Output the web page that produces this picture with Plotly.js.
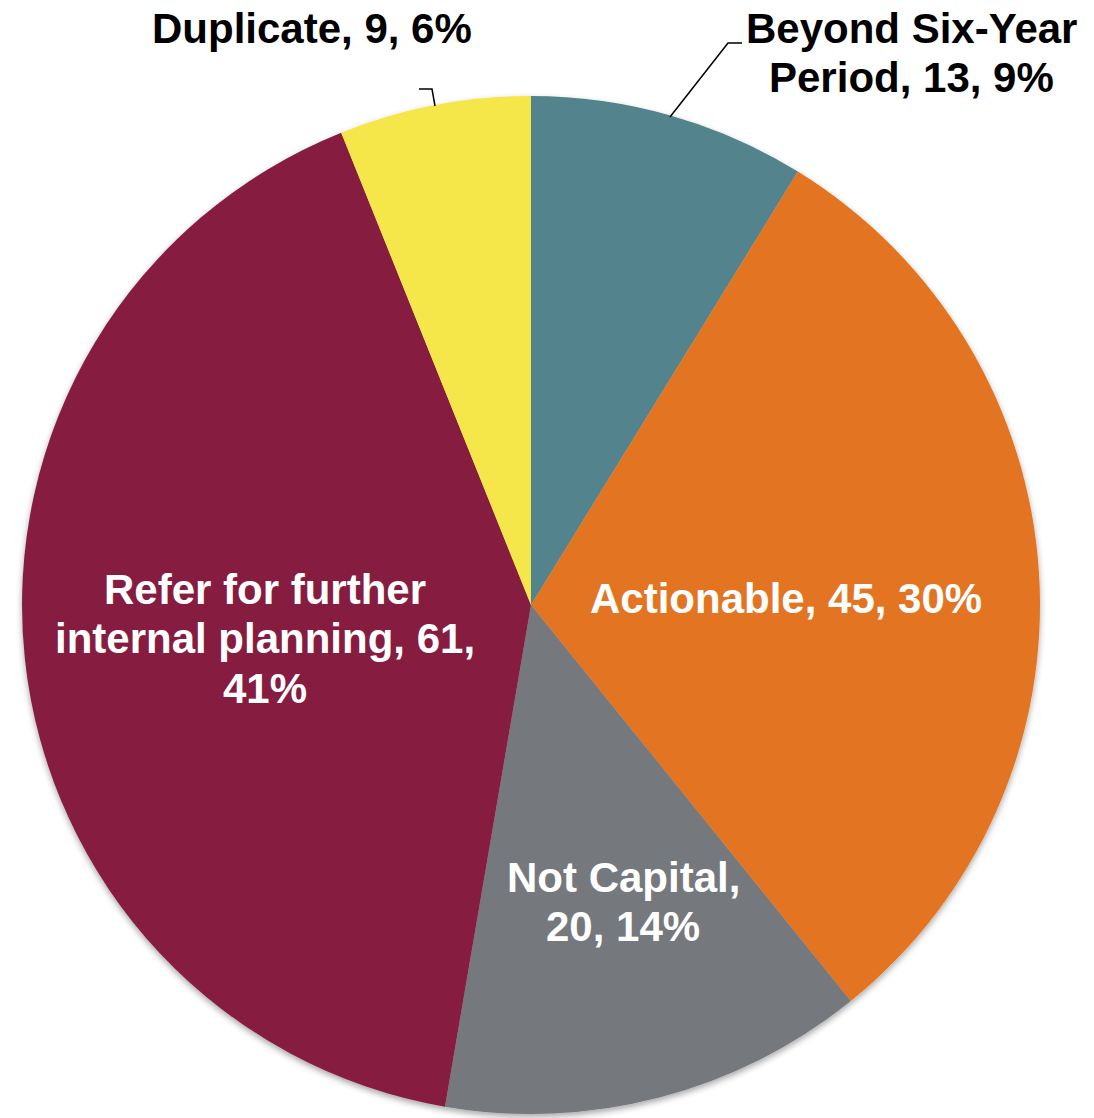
<!DOCTYPE html>
<html>
<head>
<meta charset="utf-8">
<script src="https://cdn.plot.ly/plotly-3.0.1.min.js"></script>
<style>
  html, body { margin: 0; padding: 0; background: #fff; }
  #chart { width: 1094px; height: 1118px; }
</style>
</head>
<body>
<div id="chart"></div>
<script>
// Request dispositions
const categories = ['Beyond Six-Year Period', 'Actionable', 'Not Capital', 'Refer for further internal planning', 'Duplicate'];
const counts = [13, 45, 20, 61, 9];
const sliceColors = ['#52838C', '#E37521', '#75787B', '#861F41', '#F5E64A'];

const W = 1094, H = 1118;
const cx = 531, cy = 605, R = 509;

// label layout per slice: centre x, first baseline y, wrap width (chars), colour
const labelLayout = [
  { x: 911, y: 42,  wrap: 15, color: '#000000' },
  { x: 786, y: 612, wrap: 30, color: '#ffffff' },
  { x: 623, y: 891, wrap: 12, color: '#ffffff' },
  { x: 265, y: 603, wrap: 22, color: '#ffffff' },
  { x: 312, y: 42,  wrap: 30, color: '#000000' }
];
const fontSize = 42;
const lineGap = 49.5;

const px = x => x / W;
const py = y => 1 - y / H;

function wrapWords(text, maxChars) {
  const words = text.split(' ');
  const lines = [];
  let cur = '';
  words.forEach(w => {
    const next = cur ? cur + ' ' + w : w;
    if (next.length > maxChars && cur) { lines.push(cur); cur = w; }
    else cur = next;
  });
  if (cur) lines.push(cur);
  return lines;
}

const total = counts.reduce((a, b) => a + b, 0);
const annotations = [];
categories.forEach((cat, i) => {
  const pct = Math.round(counts[i] / total * 100);
  const text = cat + ', ' + counts[i] + ', ' + pct + '%';
  const lines = wrapWords(text, labelLayout[i].wrap);
  lines.forEach((ln, k) => {
    const baseline = labelLayout[i].y + k * lineGap;
    annotations.push({
      xref: 'paper', yref: 'paper',
      x: px(labelLayout[i].x), y: py(baseline - 14),
      xanchor: 'center', yanchor: 'middle',
      text: '<b>' + ln + '</b>',
      showarrow: false,
      font: { family: 'Liberation Sans, Arial, sans-serif', size: fontSize, color: labelLayout[i].color }
    });
  });
});

// leader lines for the two outside labels
const leaderStyle = { color: '#000000', width: 1.5 };
const shapes = [
  { type: 'path', xref: 'paper', yref: 'paper', layer: 'above',
    path: `M ${px(670)} ${py(117)} L ${px(728)} ${py(43)} L ${px(742)} ${py(43)}`, line: leaderStyle },
  { type: 'path', xref: 'paper', yref: 'paper', layer: 'above',
    path: `M ${px(419)} ${py(89)} L ${px(432)} ${py(89)} L ${px(435)} ${py(106)}`, line: leaderStyle }
];

const trace = {
  type: 'pie',
  labels: categories,
  values: counts,
  sort: false,
  direction: 'clockwise',
  rotation: 0,
  textinfo: 'none',
  hoverinfo: 'skip',
  marker: { colors: sliceColors, line: { width: 0 } },
  domain: {
    x: [(cx - R) / W, (cx + R) / W],
    y: [(H - cy - R) / H, (H - cy + R) / H]
  },
  showlegend: false
};

const layout = {
  width: W, height: H,
  margin: { l: 0, r: 0, t: 0, b: 0 },
  paper_bgcolor: '#ffffff',
  showlegend: false,
  annotations: annotations,
  shapes: shapes
};

Plotly.newPlot('chart', [trace], layout, { staticPlot: true }).then(gd => {
  // soft drop shadow under the pie
  const svg = gd.querySelector('svg.main-svg');
  const ns = 'http://www.w3.org/2000/svg';
  let defs = svg.querySelector('defs');
  if (!defs) { defs = document.createElementNS(ns, 'defs'); svg.insertBefore(defs, svg.firstChild); }
  const filter = document.createElementNS(ns, 'filter');
  filter.setAttribute('id', 'pieShadow');
  filter.setAttribute('x', '-5%'); filter.setAttribute('y', '-5%');
  filter.setAttribute('width', '110%'); filter.setAttribute('height', '110%');
  const ds = document.createElementNS(ns, 'feDropShadow');
  ds.setAttribute('dx', '0'); ds.setAttribute('dy', '3');
  ds.setAttribute('stdDeviation', '3');
  ds.setAttribute('flood-color', '#000000');
  ds.setAttribute('flood-opacity', '0.35');
  filter.appendChild(ds);
  defs.appendChild(filter);
  const pl = svg.querySelector('.pielayer');
  if (pl) pl.setAttribute('filter', 'url(#pieShadow)');
});
</script>
</body>
</html>
